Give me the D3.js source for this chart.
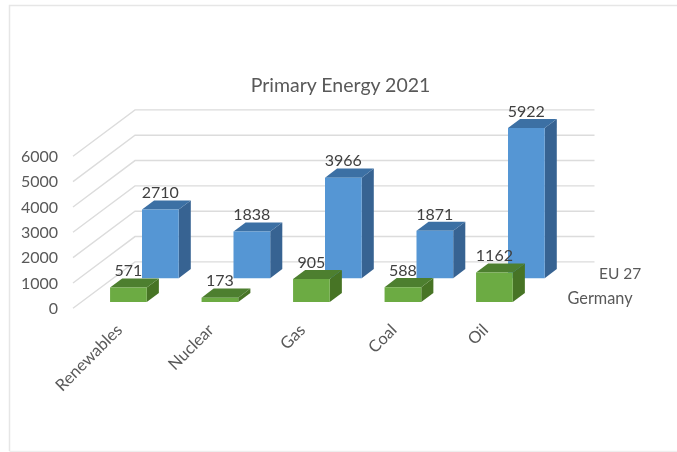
<!DOCTYPE html>
<html><head><meta charset="utf-8">
<script src="https://cdnjs.cloudflare.com/ajax/libs/d3/7.8.5/d3.min.js"></script>
<style>html,body{margin:0;padding:0;background:#fff}svg{display:block;filter:blur(0.4px)}text{font-family:Lato,"Open Sans",sans-serif}</style>
</head><body><svg id="c" width="677" height="452"></svg>
<script>
const chartTitle = "Primary Energy 2021";
const categories = ["Renewables","Nuclear","Gas","Coal","Oil"];
const seriesNames = ["Germany","EU 27"];
const germany = [571,173,905,588,1162];
const eu27 = [2710,1838,3966,1871,5922];
const yTicks = [0,1000,2000,3000,4000,5000,6000];

const svg = d3.select("#c");
const ink = "#404040", muted = "#595959", grid = "#dcdcdc";
const x = d3.scaleBand().domain(categories).range([74.3,531.8]);
const barW = 36.7;
const y = d3.scaleLinear().domain([0,6000]).range([308.3,156.3]);
const z = d3.scaleOrdinal().domain(seriesNames).range([0.135,0.65]);
const floorDx = 62, floorDy = 46.4;
const barDepth = 0.195;
const px = (a,d)=>a+floorDx*d, py=(b,d)=>b-floorDy*d;
const poly = d3.line();

// frame
svg.append("path").attr("d",poly([[9.5,451],[9.5,5.5],[677,5.5]])).attr("fill","none").attr("stroke","#e6e6e6").attr("stroke-width",1.5);
svg.append("line").attr("x1",9.5).attr("x2",677).attr("y1",451.5).attr("y2",451.5).attr("stroke","#eeeeee").attr("stroke-width",1.5);

// gridlines: side wall + back wall
const xL = x.range()[0]-1.3, xR = x.range()[1]+0.7;
svg.append("g").selectAll("path").data(yTicks).join("path")
 .attr("d",t=>poly([[xL,y(t)],[px(xL,1),py(y(t),1)],[px(xR,1),py(y(t),1)]]))
 .attr("fill","none").attr("stroke",grid).attr("stroke-width",1.4);

// y tick labels
svg.append("g").selectAll("text").data(yTicks).join("text")
 .attr("x",58).attr("y",t=>y(t)).attr("dy","0.35em").attr("text-anchor","end")
 .attr("font-size",16).attr("fill",muted).text(t=>t);

// bars
const palette = {"EU 27":{front:"#5596d4",top:"#3c70a4",side:"#376392"},
                 "Germany":{front:"#6cab43",top:"#4d7f2f",side:"#477425"}};
function bars(name, vals){
  const d0 = z(name), d1 = d0+barDepth, c = palette[name];
  const g = svg.append("g");
  categories.forEach((cat,i)=>{
    const x0 = x(cat)+(x.bandwidth()-barW)/2, x1=x0+barW, b=y(0), t=y(vals[i]);
    const P=(a,v,d)=>[px(a,d),py(v,d)];
    g.append("path").attr("fill",c.side).attr("d",poly([P(x1,b,d0),P(x1,b,d1),P(x1,t,d1),P(x1,t,d0)])+"Z");
    g.append("path").attr("fill",c.top).attr("d",poly([P(x0,t,d0),P(x1,t,d0),P(x1,t,d1),P(x0,t,d1)])+"Z");
    g.append("path").attr("fill",c.front).attr("d",poly([P(x0,b,d0),P(x1,b,d0),P(x1,t,d0),P(x0,t,d0)])+"Z");
  });
}
bars("EU 27",eu27);
bars("Germany",germany);

// data labels
function labels(name, vals){
  svg.append("g").selectAll("text").data(vals).join("text")
   .attr("x",(v,i)=>px(x(categories[i])+x.bandwidth()/2,z(name)))
   .attr("y",v=>py(y(v),z(name))-16.8).attr("dy","0.35em").attr("text-anchor","middle")
   .attr("font-size",16).attr("fill",ink).text(v=>v);
}
labels("EU 27",eu27);
labels("Germany",germany);

// category labels
svg.append("g").selectAll("text").data(categories).join("text")
 .attr("transform",c=>`translate(${x(c)+x.bandwidth()/2-0.8},327) rotate(-45)`)
 .attr("text-anchor","end").attr("dy","0.35em")
 .attr("font-size",16.5).attr("fill",muted).text(c=>c);

// series labels
svg.append("text").attr("x",599).attr("y",274).attr("dy","0.35em").attr("font-size",15.5).attr("fill",muted).text(seriesNames[1]);
svg.append("text").attr("x",567.5).attr("y",298).attr("dy","0.35em").attr("font-size",16.3).attr("fill",muted).text(seriesNames[0]);

// title
svg.append("text").attr("x",340.5).attr("y",85).attr("dy","0.35em").attr("text-anchor","middle")
 .attr("font-size",19.5).attr("fill",muted).text(chartTitle);
</script></body></html>
